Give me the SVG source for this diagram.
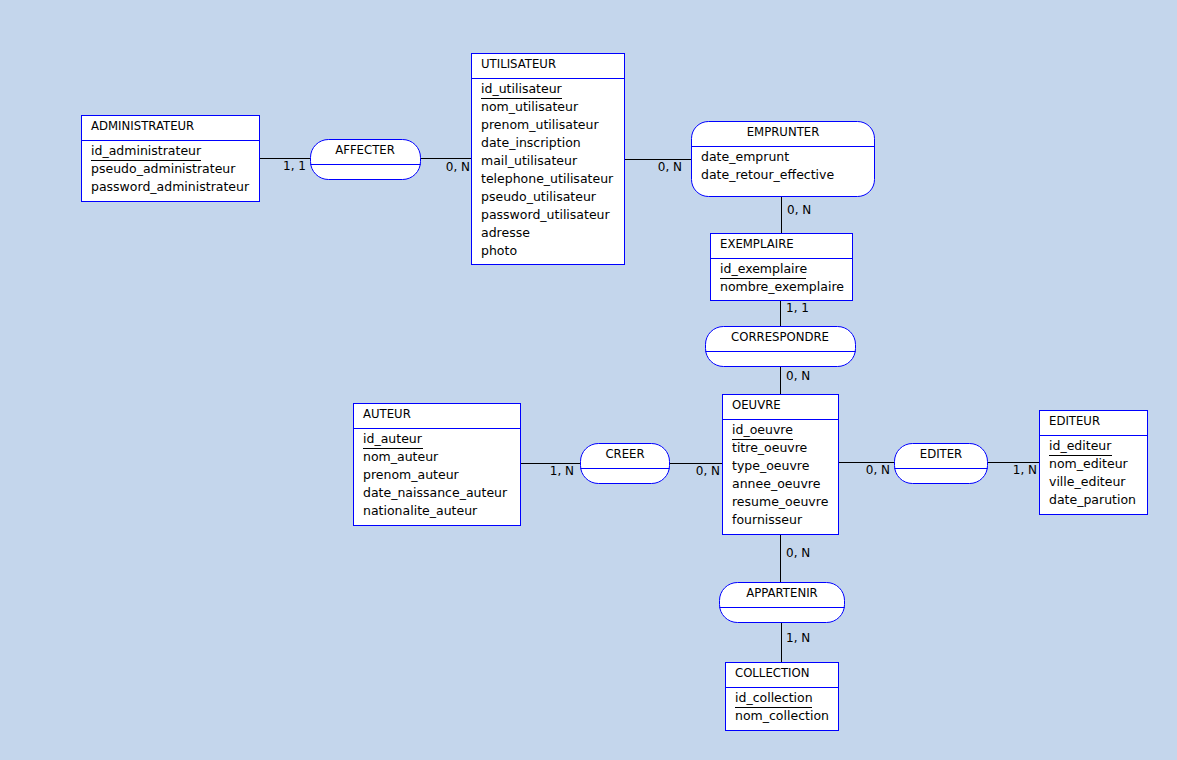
<svg xmlns="http://www.w3.org/2000/svg" width="1177" height="760" viewBox="0 0 1177 760">
  <style>
    .box { fill: #ffffff; stroke: #0000ff; stroke-width: 1; }
    .sep { stroke: #0000ff; stroke-width: 1; }
    .link { stroke: #000000; stroke-width: 1; fill: none; }
    .uline { stroke: #000000; stroke-width: 1; }
    .title { font-family: "DejaVu Sans", sans-serif; font-size: 11.7px; fill: #000000; }
    .attr { font-family: "DejaVu Sans", sans-serif; font-size: 12.5px; fill: #000000; }
    .card { font-family: "DejaVu Sans", sans-serif; font-size: 12px; fill: #000000; }
    .mid { text-anchor: middle; }
    .end { text-anchor: end; }
  </style>

  <rect x="0" y="0" width="1177" height="760" fill="#c4d6ec"/>

  <!-- connectors -->
  <g id="connectors">
    <line class="link" x1="259.5" y1="158.5" x2="310.5" y2="158.5"/>
    <line class="link" x1="420.5" y1="158.5" x2="471.5" y2="158.5"/>
    <line class="link" x1="624.5" y1="159.5" x2="691.5" y2="159.5"/>
    <line class="link" x1="781.5" y1="197" x2="781.5" y2="233.5"/>
    <line class="link" x1="780.5" y1="301" x2="780.5" y2="326.5"/>
    <line class="link" x1="780.5" y1="366" x2="780.5" y2="394.5"/>
    <line class="link" x1="780.5" y1="534" x2="780.5" y2="582.5"/>
    <line class="link" x1="781.5" y1="622" x2="781.5" y2="662.5"/>
    <line class="link" x1="520.5" y1="463.5" x2="580.5" y2="463.5"/>
    <line class="link" x1="669.5" y1="463.5" x2="722.5" y2="463.5"/>
    <line class="link" x1="838.5" y1="462.5" x2="894.5" y2="462.5"/>
    <line class="link" x1="987.5" y1="462.5" x2="1039.5" y2="462.5"/>

    <text class="card end" x="306" y="170">1, 1</text>
    <text class="card end" x="470" y="171">0, N</text>
    <text class="card end" x="682" y="171">0, N</text>
    <text class="card" x="787" y="214">0, N</text>
    <text class="card" x="786" y="312">1, 1</text>
    <text class="card" x="786" y="380">0, N</text>
    <text class="card end" x="574" y="475">1, N</text>
    <text class="card end" x="720" y="475">0, N</text>
    <text class="card end" x="890" y="474">0, N</text>
    <text class="card end" x="1037" y="474">1, N</text>
    <text class="card" x="786" y="557">0, N</text>
    <text class="card" x="786" y="642">1, N</text>
  </g>

  <!-- entity: ADMINISTRATEUR -->
  <g id="administrateur">
    <rect class="box" x="81.5" y="115.5" width="178" height="86"/>
    <line class="sep" x1="81.5" y1="140.5" x2="259.5" y2="140.5"/>
    <text class="title" x="91" y="130">ADMINISTRATEUR</text>
    <text class="attr" x="91" y="155">id_administrateur</text>
    <line class="uline" x1="91" y1="160.5" x2="201" y2="160.5"/>
    <text class="attr" x="91" y="173">pseudo_administrateur</text>
    <text class="attr" x="91" y="191">password_administrateur</text>
  </g>

  <!-- association: AFFECTER -->
  <g id="affecter">
    <rect class="box" x="310.5" y="139.5" width="110" height="40" rx="18" ry="18"/>
    <line class="sep" x1="310.5" y1="164.5" x2="420.5" y2="164.5"/>
    <text class="title mid" x="365" y="154">AFFECTER</text>
  </g>

  <!-- entity: UTILISATEUR -->
  <g id="utilisateur">
    <rect class="box" x="471.5" y="53.5" width="153" height="211"/>
    <line class="sep" x1="471.5" y1="78.5" x2="624.5" y2="78.5"/>
    <text class="title" x="481" y="68">UTILISATEUR</text>
    <text class="attr" x="481" y="93">id_utilisateur</text>
    <line class="uline" x1="481" y1="98.5" x2="562" y2="98.5"/>
    <text class="attr" x="481" y="111">nom_utilisateur</text>
    <text class="attr" x="481" y="129">prenom_utilisateur</text>
    <text class="attr" x="481" y="147">date_inscription</text>
    <text class="attr" x="481" y="165">mail_utilisateur</text>
    <text class="attr" x="481" y="183">telephone_utilisateur</text>
    <text class="attr" x="481" y="201">pseudo_utilisateur</text>
    <text class="attr" x="481" y="219">password_utilisateur</text>
    <text class="attr" x="481" y="237">adresse</text>
    <text class="attr" x="481" y="255">photo</text>
  </g>

  <!-- association: EMPRUNTER -->
  <g id="emprunter">
    <rect class="box" x="691.5" y="121.5" width="183" height="75" rx="17" ry="17"/>
    <line class="sep" x1="691.5" y1="146.5" x2="874.5" y2="146.5"/>
    <text class="title mid" x="783" y="136">EMPRUNTER</text>
    <text class="attr" x="701" y="161">date_emprunt</text>
    <text class="attr" x="701" y="179">date_retour_effective</text>
  </g>

  <!-- entity: EXEMPLAIRE -->
  <g id="exemplaire">
    <rect class="box" x="710.5" y="233.5" width="142" height="67"/>
    <line class="sep" x1="710.5" y1="258.5" x2="852.5" y2="258.5"/>
    <text class="title" x="720" y="248">EXEMPLAIRE</text>
    <text class="attr" x="720" y="273">id_exemplaire</text>
    <line class="uline" x1="720" y1="278.5" x2="806" y2="278.5"/>
    <text class="attr" x="720" y="291">nombre_exemplaire</text>
  </g>

  <!-- association: CORRESPONDRE -->
  <g id="correspondre">
    <rect class="box" x="705.5" y="326.5" width="150" height="40" rx="18" ry="18"/>
    <line class="sep" x1="705.5" y1="351.5" x2="855.5" y2="351.5"/>
    <text class="title mid" x="780" y="341">CORRESPONDRE</text>
  </g>

  <!-- entity: OEUVRE -->
  <g id="oeuvre">
    <rect class="box" x="722.5" y="394.5" width="116" height="140"/>
    <line class="sep" x1="722.5" y1="419.5" x2="838.5" y2="419.5"/>
    <text class="title" x="732" y="409">OEUVRE</text>
    <text class="attr" x="732" y="434">id_oeuvre</text>
    <line class="uline" x1="732" y1="439.5" x2="793" y2="439.5"/>
    <text class="attr" x="732" y="452">titre_oeuvre</text>
    <text class="attr" x="732" y="470">type_oeuvre</text>
    <text class="attr" x="732" y="488">annee_oeuvre</text>
    <text class="attr" x="732" y="506">resume_oeuvre</text>
    <text class="attr" x="732" y="524">fournisseur</text>
  </g>

  <!-- entity: AUTEUR -->
  <g id="auteur">
    <rect class="box" x="353.5" y="403.5" width="167" height="122"/>
    <line class="sep" x1="353.5" y1="428.5" x2="520.5" y2="428.5"/>
    <text class="title" x="363" y="418">AUTEUR</text>
    <text class="attr" x="363" y="443">id_auteur</text>
    <line class="uline" x1="363" y1="448.5" x2="423" y2="448.5"/>
    <text class="attr" x="363" y="461">nom_auteur</text>
    <text class="attr" x="363" y="479">prenom_auteur</text>
    <text class="attr" x="363" y="497">date_naissance_auteur</text>
    <text class="attr" x="363" y="515">nationalite_auteur</text>
  </g>

  <!-- association: CREER -->
  <g id="creer">
    <rect class="box" x="580.5" y="443.5" width="89" height="40" rx="18" ry="18"/>
    <line class="sep" x1="580.5" y1="468.5" x2="669.5" y2="468.5"/>
    <text class="title mid" x="625" y="458">CREER</text>
  </g>

  <!-- association: EDITER -->
  <g id="editer">
    <rect class="box" x="894.5" y="443.5" width="93" height="40" rx="18" ry="18"/>
    <line class="sep" x1="894.5" y1="468.5" x2="987.5" y2="468.5"/>
    <text class="title mid" x="941" y="458">EDITER</text>
  </g>

  <!-- entity: EDITEUR -->
  <g id="editeur">
    <rect class="box" x="1039.5" y="410.5" width="108" height="104"/>
    <line class="sep" x1="1039.5" y1="435.5" x2="1147.5" y2="435.5"/>
    <text class="title" x="1049" y="425">EDITEUR</text>
    <text class="attr" x="1049" y="450">id_editeur</text>
    <line class="uline" x1="1049" y1="455.5" x2="1112" y2="455.5"/>
    <text class="attr" x="1049" y="468">nom_editeur</text>
    <text class="attr" x="1049" y="486">ville_editeur</text>
    <text class="attr" x="1049" y="504">date_parution</text>
  </g>

  <!-- association: APPARTENIR -->
  <g id="appartenir">
    <rect class="box" x="719.5" y="582.5" width="125" height="40" rx="18" ry="18"/>
    <line class="sep" x1="719.5" y1="607.5" x2="844.5" y2="607.5"/>
    <text class="title mid" x="782" y="597">APPARTENIR</text>
  </g>

  <!-- entity: COLLECTION -->
  <g id="collection">
    <rect class="box" x="725.5" y="662.5" width="113" height="68"/>
    <line class="sep" x1="725.5" y1="687.5" x2="838.5" y2="687.5"/>
    <text class="title" x="735" y="677">COLLECTION</text>
    <text class="attr" x="735" y="702">id_collection</text>
    <line class="uline" x1="735" y1="707.5" x2="812" y2="707.5"/>
    <text class="attr" x="735" y="720">nom_collection</text>
  </g>
</svg>
